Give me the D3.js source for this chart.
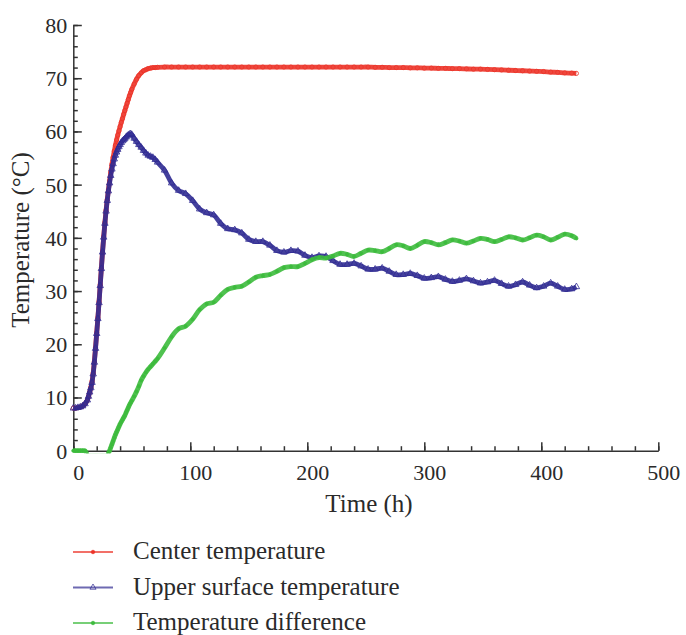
<!DOCTYPE html>
<meta charset="utf-8">
<style>
body { margin: 0; background: #fff; }
text { font-family: "Liberation Serif", "Times New Roman", serif; fill: #2a2a2a; }
.axis path, .axis line { stroke: #333; stroke-width: 1.5px; }
.axis text { font-size: 22px; }
.title { font-size: 25px; }
.legend text { font-size: 25px; }
</style>
<svg width="686" height="635"></svg>
<script src="https://cdn.jsdelivr.net/npm/d3@7"></script>
<script>

// sample times (h)
var hours = [0,2,4,6,8,10,
  12,13,14,15,16,17,18,19,20,21,22,23,24,25,26,27,28,29,30,31,32,33,34,35,36,37,38,39,40,41,42,43,44,45,46,47,48,49,50,
  52,54,56,58,60,62,64,66,68,70,
  72,78,84,90,96,102,108,114,120,126,132,138,144,150,156,162,168,174,180,186,
  192,198,204,210,216,222,228,234,240,246,252,258,264,270,276,282,288,294,300,306,
  312,318,324,330,336,342,348,354,360,366,372,378,384,390,396,402,408,414,420,426,430];

var centerTemp = [8.0,8.0,8.1,8.2,8.4,8.8,
  9.5,10.2,11.0,11.9,13.0,14.6,16.8,19.4,22.2,25.0,28.0,31.2,34.4,37.5,40.3,42.9,45.2,47.2,49.0,50.7,52.3,53.8,55.1,56.3,57.4,58.4,59.3,60.1,60.9,61.7,62.4,63.2,63.9,64.6,65.3,66.0,66.7,67.3,67.9,
  68.9,69.8,70.5,71.0,71.4,71.6,71.8,71.9,72.0,72.0,
  72.05,72.1,72.1,72.1,72.1,72.1,72.1,72.1,72.1,72.1,72.1,72.1,72.1,72.1,72.1,72.1,72.1,72.1,72.1,72.1,
  72.1,72.1,72.1,72.1,72.1,72.1,72.1,72.1,72.1,72.1,72.1,72.05,72.05,72.0,72.0,72.0,71.95,71.95,71.9,71.9,
  71.85,71.85,71.8,71.8,71.75,71.7,71.7,71.65,71.6,71.55,71.5,71.45,71.4,71.35,71.3,71.25,71.15,71.1,71.0,70.95,70.9];

var upperTemp = [8.0,8.0,8.1,8.2,8.4,8.8,
  9.5,10.2,11.0,11.8,12.8,14.4,16.6,19.2,22.0,24.8,27.8,31.0,34.2,37.3,40.1,42.7,45.0,47.0,48.8,50.3,51.7,52.9,53.9,54.8,55.5,56.1,56.6,57.1,57.5,57.9,58.2,58.4,58.6,58.9,59.1,59.3,59.45,59.55,59.4,
  58.7,58.1,57.5,57.0,56.4,55.9,55.5,55.3,55.1,54.7,
  54.2,52.7,50.3,48.9,48.3,47.0,45.4,44.7,44.3,42.7,41.7,41.5,40.9,39.7,39.3,39.3,38.6,37.6,37.3,37.6,
  37.5,36.7,36.3,36.6,36.5,35.7,35.0,35.0,35.2,34.7,34.1,34.1,34.3,33.7,33.1,33.1,33.3,32.9,32.4,32.5,
  32.7,32.2,31.8,32.0,32.3,31.9,31.5,31.7,32.0,31.4,30.9,31.2,31.7,31.1,30.6,30.9,31.5,30.9,30.3,30.4,30.8];

var tempDiff = [0,0,0,0,0,0,
  -0.8,-1,-1,-1,-1,-1,-1,-1,-1,-1,-1,-1,-1,-1,-1,-1,-1,-1,-0.5,0,0.6,1.2,1.8,2.4,3.0,3.5,4.0,4.5,5.0,5.4,5.8,6.2,6.6,7.1,7.6,8.1,8.6,9.0,9.4,
  10.2,11.1,12.1,13.2,14.0,14.7,15.3,15.8,16.3,16.8,
  17.3,19.3,21.4,22.9,23.4,24.7,26.5,27.6,27.9,29.2,30.3,30.7,30.9,31.7,32.6,32.9,33.1,33.7,34.4,34.6,
  34.6,35.2,35.9,36.3,36.2,36.6,37.1,36.9,36.5,37.1,37.7,37.6,37.4,38.0,38.7,38.5,38.0,38.6,39.3,39.1,
  38.7,39.1,39.6,39.4,39.0,39.4,39.9,39.7,39.3,39.7,40.2,40.0,39.6,40.0,40.5,40.2,39.6,40.1,40.7,40.4,39.9];

var seriesNames = ["Center temperature", "Upper surface temperature", "Temperature difference"];
var xTicks = [0, 100, 200, 300, 400, 500];
var yTicks = [0, 10, 20, 30, 40, 50, 60, 70, 80];

var svg = d3.select("svg");

var x = d3.scaleLinear().domain([0, 500]).range([73.3, 658.3]);
var y = d3.scaleLinear().domain([0, 80]).range([450.7, 25]);

svg.append("defs").append("clipPath").attr("id", "plot")
  .append("rect").attr("x", 70).attr("y", 0).attr("width", 600).attr("height", 453.2);

// minor ticks
svg.append("g").attr("class", "axis").attr("transform", "translate(" + x(0) + ",0)")
  .call(d3.axisLeft(y).tickValues(d3.range(0, 81, 2)).tickSize(-4.5).tickFormat(""))
  .call(function(g) { g.select(".domain").remove(); });
svg.append("g").attr("class", "axis").attr("transform", "translate(0," + y(0) + ")")
  .call(d3.axisBottom(x).tickValues(d3.range(0, 501, 20)).tickSize(-4.5).tickFormat(""))
  .call(function(g) { g.select(".domain").remove(); });

// major ticks + labels
svg.append("g").attr("class", "axis").attr("transform", "translate(" + x(0) + ",0)")
  .call(d3.axisLeft(y).tickValues(yTicks).tickSize(-8.5).tickSizeOuter(0).tickPadding(6))
  .call(function(g) { g.selectAll("text").attr("dy", "0.34em"); });
svg.append("g").attr("class", "axis").attr("transform", "translate(0," + y(0) + ")")
  .call(d3.axisBottom(x).tickValues(xTicks).tickSize(-8.5).tickSizeOuter(0).tickPadding(14))
  .call(function(g) { g.selectAll("text").attr("dx", 5); });

svg.append("text").attr("class", "title")
  .attr("x", 369).attr("y", 512).attr("text-anchor", "middle")
  .text("Time (h)");
svg.append("text").attr("class", "title")
  .attr("transform", "translate(29,240) rotate(-90)").attr("text-anchor", "middle")
  .text("Temperature (°C)");

var colors = ["#ec3328", "#302b92", "#3dbb3d"];
var shapes = [d3.symbolCircle, d3.symbolTriangle, d3.symbolCircle];
var allValues = [centerTemp, upperTemp, tempDiff];

var line = d3.line()
  .x(function(d) { return x(d[0]); })
  .y(function(d) { return y(d[1]); })
  .curve(d3.curveCatmullRom.alpha(0.5));

var plot = svg.append("g").attr("clip-path", "url(#plot)");

allValues.forEach(function(vals, i) {
  var pts = hours.map(function(h, j) { return [h, vals[j]]; });
  plot.append("path")
    .datum(pts)
    .attr("fill", "none")
    .attr("stroke", colors[i])
    .attr("stroke-opacity", 0.9)
    .attr("stroke-width", 4.8)
    .attr("stroke-linejoin", "round")
    .attr("d", line);
  plot.selectAll(".m" + i)
    .data(pts)
    .enter().append("path")
      .attr("class", "m" + i)
      .attr("transform", function(d) { return "translate(" + x(d[0]) + "," + y(d[1]) + ")"; })
      .attr("d", d3.symbol().type(shapes[i]).size(i == 1 ? 18 : i == 0 ? 14 : 8))
      .attr("fill", i == 2 ? colors[i] : "none")
      .attr("stroke", colors[i])
      .attr("stroke-opacity", 0.8)
      .attr("stroke-width", 1);
});

// legend
var legend = svg.append("g").attr("class", "legend");
seriesNames.forEach(function(name, i) {
  var ly = 552 + i * 35.5;
  legend.append("line")
    .attr("x1", 73).attr("x2", 113).attr("y1", ly).attr("y2", ly)
    .attr("stroke", colors[i]).attr("stroke-opacity", 0.7).attr("stroke-width", 2);
  legend.append("path")
    .attr("transform", "translate(93," + ly + ")")
    .attr("d", d3.symbol().type(shapes[i]).size(i == 1 ? 16 : 10))
    .attr("fill", i == 1 ? "none" : colors[i])
    .attr("stroke", colors[i]).attr("stroke-opacity", 0.7);
  legend.append("text")
    .attr("x", 133).attr("y", ly + 7)
    .text(name);
});

</script>
